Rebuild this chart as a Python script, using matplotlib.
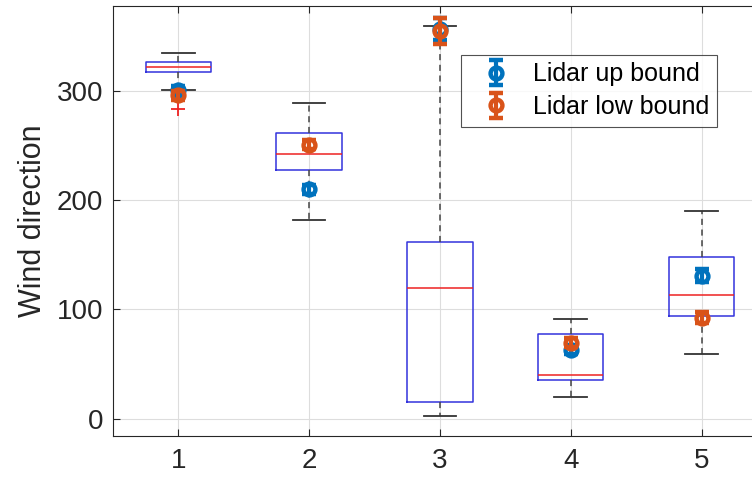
import numpy as np
import matplotlib.pyplot as plt

plt.rcParams['font.family'] = ['Liberation Sans', 'DejaVu Sans']

# Box plot stats
groups = [1, 2, 3, 4, 5]
whis_lo = [301, 182, 2, 20, 59.5]
q1 = [317, 228, 15.5, 35, 94]
med = [322, 242, 120, 40, 113.5]
q3 = [327, 262, 162, 77, 148]
whis_hi = [335, 289, 360, 91.5, 190]
outliers = [[284], [], [], [], []]

# Lidar bounds (mean and error)
up_val = [301, 210, 357, 63, 131]
up_err = [4, 4, 10, 4, 6]
low_val = [296, 251, 355, 69.5, 92.5]
low_err = [4, 4, 12, 4, 5]

stats = []
for i in range(len(groups)):
    stats.append(dict(whislo=whis_lo[i], q1=q1[i], med=med[i], q3=q3[i],
                      whishi=whis_hi[i], fliers=outliers[i]))

fig = plt.figure(figsize=(7.52, 4.8), dpi=100)
ax = fig.add_axes([0.150, 0.0917, 0.870, 0.896])

ax.bxp(stats, positions=groups, widths=0.5, capwidths=0.25, showfliers=True,
       boxprops=dict(color='#3333dd', linewidth=1.1),
       medianprops=dict(color='#ee2222', linewidth=1.1),
       whiskerprops=dict(color='#444444', linestyle=(0, (4, 3)), linewidth=1.1),
       capprops=dict(color='#333333', linewidth=1.3),
       flierprops=dict(marker='+', markeredgecolor='#ee2222', markersize=10, markeredgewidth=1.3))

ax.errorbar(groups, up_val, yerr=up_err, fmt='o', color='#0072BD', mfc='none',
            ms=8.5, mew=3.2, elinewidth=3, capsize=5, capthick=3,
            label='Lidar up bound', zorder=5)
ax.errorbar(groups, low_val, yerr=low_err, fmt='o', color='#D95319', mfc='none',
            ms=8.5, mew=3.2, elinewidth=3, capsize=5, capthick=3,
            label='Lidar low bound', zorder=6)

ax.set_xlim(0.5, 5.5)
ax.set_ylim(-16, 378)
ax.set_xticks(groups)
ax.set_xticklabels([str(g) for g in groups])
ax.set_yticks([0, 100, 200, 300])
ax.set_ylabel('Wind direction', fontsize=22, color='#262626', labelpad=6)
ax.tick_params(direction='in', top=True, right=True, labelsize=20,
               colors='#262626', length=5)
ax.tick_params(axis='x', pad=9)
ax.tick_params(axis='y', pad=7)
ax.grid(True, color='#dddddd', linewidth=0.8)
ax.set_axisbelow(True)
for s in ax.spines.values():
    s.set_color('#262626')

leg = ax.legend(loc='upper left', bbox_to_anchor=(0.532, 0.886), fontsize=18,
                frameon=True, fancybox=False, edgecolor='#262626',
                handlelength=2.2, handletextpad=0.4, borderpad=0.3,
                labelspacing=0.35, borderaxespad=0)
leg.get_frame().set_linewidth(0.8)

fig.savefig('out.png', dpi=100)
